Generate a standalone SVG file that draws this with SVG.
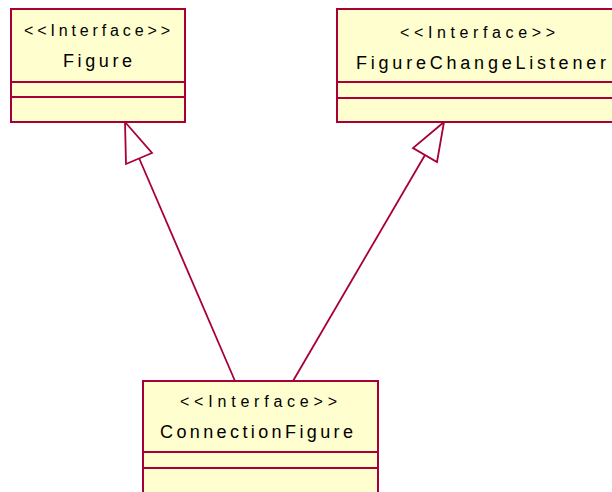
<svg xmlns="http://www.w3.org/2000/svg" width="612" height="492" viewBox="0 0 612 492">
<style>
.box{fill:#FEFECE;stroke:#A80036;stroke-width:2}
.div{stroke:#A80036;stroke-width:2}
.st{font-family:"Liberation Sans",Arial,sans-serif;font-size:16px;fill:#000;text-anchor:start}
.nm{font-family:"Liberation Sans",Arial,sans-serif;font-size:18px;fill:#000;text-anchor:start}
.edge{stroke:#A80036;stroke-width:1.8;fill:none}
.head{stroke:#A80036;stroke-width:1.8;fill:#FFFFFF}
</style>
<rect width="612" height="492" fill="#FFFFFF"/>
<g id="connectors">
<line class="edge" x1="139" y1="158" x2="235" y2="381"/>
<polygon class="head" points="125,122 152,153 126,164"/>
<line class="edge" x1="425" y1="155" x2="293" y2="381"/>
<polygon class="head" points="444,122 413,148 437,162"/>
</g>
<g id="Figure">
<rect class="box" x="11" y="9" width="174" height="113"/>
<text class="st" x="24" y="36" textLength="146" lengthAdjust="spacing">&lt;&lt;Interface&gt;&gt;</text>
<text class="nm" x="63" y="67" textLength="69" lengthAdjust="spacing">Figure</text>
<line class="div" x1="11" y1="82" x2="185" y2="82"/>
<line class="div" x1="11" y1="97" x2="185" y2="97"/>
</g>
<g id="FigureChangeListener">
<rect class="box" x="337" y="9" width="290" height="113"/>
<text class="st" x="400" y="38" textLength="155" lengthAdjust="spacing">&lt;&lt;Interface&gt;&gt;</text>
<text class="nm" x="356" y="69" textLength="250" lengthAdjust="spacing">FigureChangeListener</text>
<line class="div" x1="337" y1="82" x2="627" y2="82"/>
<line class="div" x1="337" y1="98" x2="627" y2="98"/>
</g>
<g id="ConnectionFigure">
<rect class="box" x="143" y="381" width="235" height="130"/>
<text class="st" x="180" y="407" textLength="157" lengthAdjust="spacing">&lt;&lt;Interface&gt;&gt;</text>
<text class="nm" x="160" y="438" textLength="193" lengthAdjust="spacing">ConnectionFigure</text>
<line class="div" x1="143" y1="452" x2="378" y2="452"/>
<line class="div" x1="143" y1="468" x2="378" y2="468"/>
</g>
</svg>
